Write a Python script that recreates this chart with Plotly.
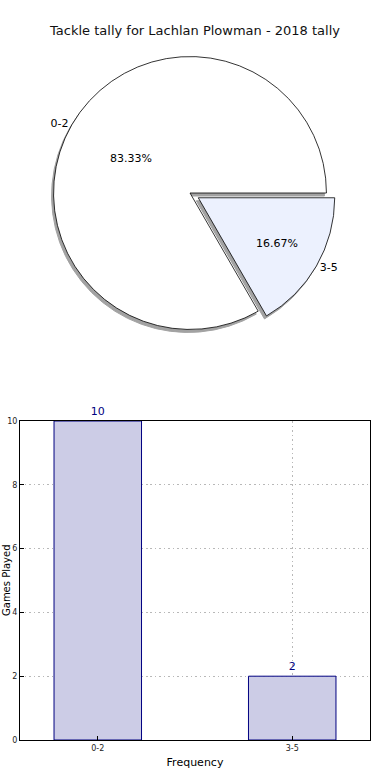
import plotly.graph_objects as go

categories = ["0-2", "3-5"]
counts = [10, 2]
title_text = "Tackle tally for Lachlan Plowman - 2018 tally"
x_title = "Frequency"
y_title = "Games Played"
y_ticks = [0, 2, 4, 6, 8, 10]

W, H = 390, 780
pull = [0, 0.07]
slice_colors = ["#ffffff", "#ecf1fe"]

# pie geometry (pixels)
cx, cy, r = 190, 193, 146
def dom(cx, cy, r):
    return dict(x=[(cx - r) / W, (cx + r) / W], y=[1 - (cy + r) / H, 1 - (cy - r) / H])

fig = go.Figure()

common = dict(labels=categories, values=counts, sort=False, direction="counterclockwise",
              rotation=150, pull=pull, showlegend=False)

# shadow
fig.add_trace(go.Pie(
    **common, domain=dom(cx - 2, cy + 3, r),
    marker=dict(colors=["#8c8c8c", "#8c8c8c"], line=dict(color="#8c8c8c", width=1)),
    textinfo="none", hoverinfo="skip", opacity=0.8,
))
# main pie with percentages inside
fig.add_trace(go.Pie(
    **common, domain=dom(cx, cy, r),
    marker=dict(colors=slice_colors, line=dict(color="#000000", width=0.8)),
    texttemplate="%{percent:.2%}", textposition="inside", insidetextorientation="horizontal",
    insidetextfont=dict(family="DejaVu Sans", size=11, color="#000000"),
))
# labels outside (transparent overlay)
fig.add_trace(go.Pie(
    **common, domain=dom(cx, cy, r),
    marker=dict(colors=["rgba(0,0,0,0)", "rgba(0,0,0,0)"], line=dict(width=0)),
    textinfo="label", textposition="outside",
    outsidetextfont=dict(family="DejaVu Sans", size=11, color="#000000"),
    hoverinfo="skip",
))

# bar chart
fig.add_trace(go.Bar(
    x=categories, y=counts, width=0.45,
    marker=dict(color="#ccccE6", line=dict(color="#000080", width=1)),
    text=[str(v) for v in counts], textposition="outside",
    outsidetextfont=dict(family="DejaVu Sans", size=11, color="#000080"),
    cliponaxis=False, showlegend=False,
))

grid = dict(showgrid=True, gridcolor="#b8b8b8", griddash="1.5px,3px", gridwidth=1)

fig.update_layout(
    width=W, height=H, autosize=False,
    margin=dict(l=0, r=0, t=0, b=0, autoexpand=False),
    paper_bgcolor="white", plot_bgcolor="white",
    font=dict(family="DejaVu Sans", color="#000000"),
    title=dict(text=title_text, x=0.5, xanchor="center", xref="paper",
               y=1 - 30 / H, yanchor="middle", yref="container",
               font=dict(size=13, color="#111111")),
    xaxis=dict(domain=[20 / W, 370 / W], anchor="y", range=[-0.4, 1.4], automargin=False,
               showline=True, linecolor="#000", linewidth=1, mirror=True, **grid,
               ticks="inside", ticklen=4, tickcolor="#000",
               tickfont=dict(size=8, color="#222"),
               title=dict(text=x_title, font=dict(size=11), standoff=6)),
    yaxis=dict(domain=[1 - 740 / H, 1 - 421 / H], anchor="x", range=[0, 10], automargin=False,
               tickvals=y_ticks,
               showline=True, linecolor="#000", linewidth=1, mirror=True, **grid,
               zeroline=False,
               ticks="inside", ticklen=4, tickcolor="#000",
               tickfont=dict(size=8, color="#222")),
    annotations=[dict(text=y_title, xref="paper", yref="paper", x=6 / W,
                      y=(1 - 580 / H), textangle=-90, showarrow=False,
                      xanchor="center", yanchor="middle", font=dict(size=10, color="#000"))],
)

fig.write_html("out.html", config={"displayModeBar": False},
               post_script="document.body.style.margin='0';document.body.style.overflow='hidden';")
